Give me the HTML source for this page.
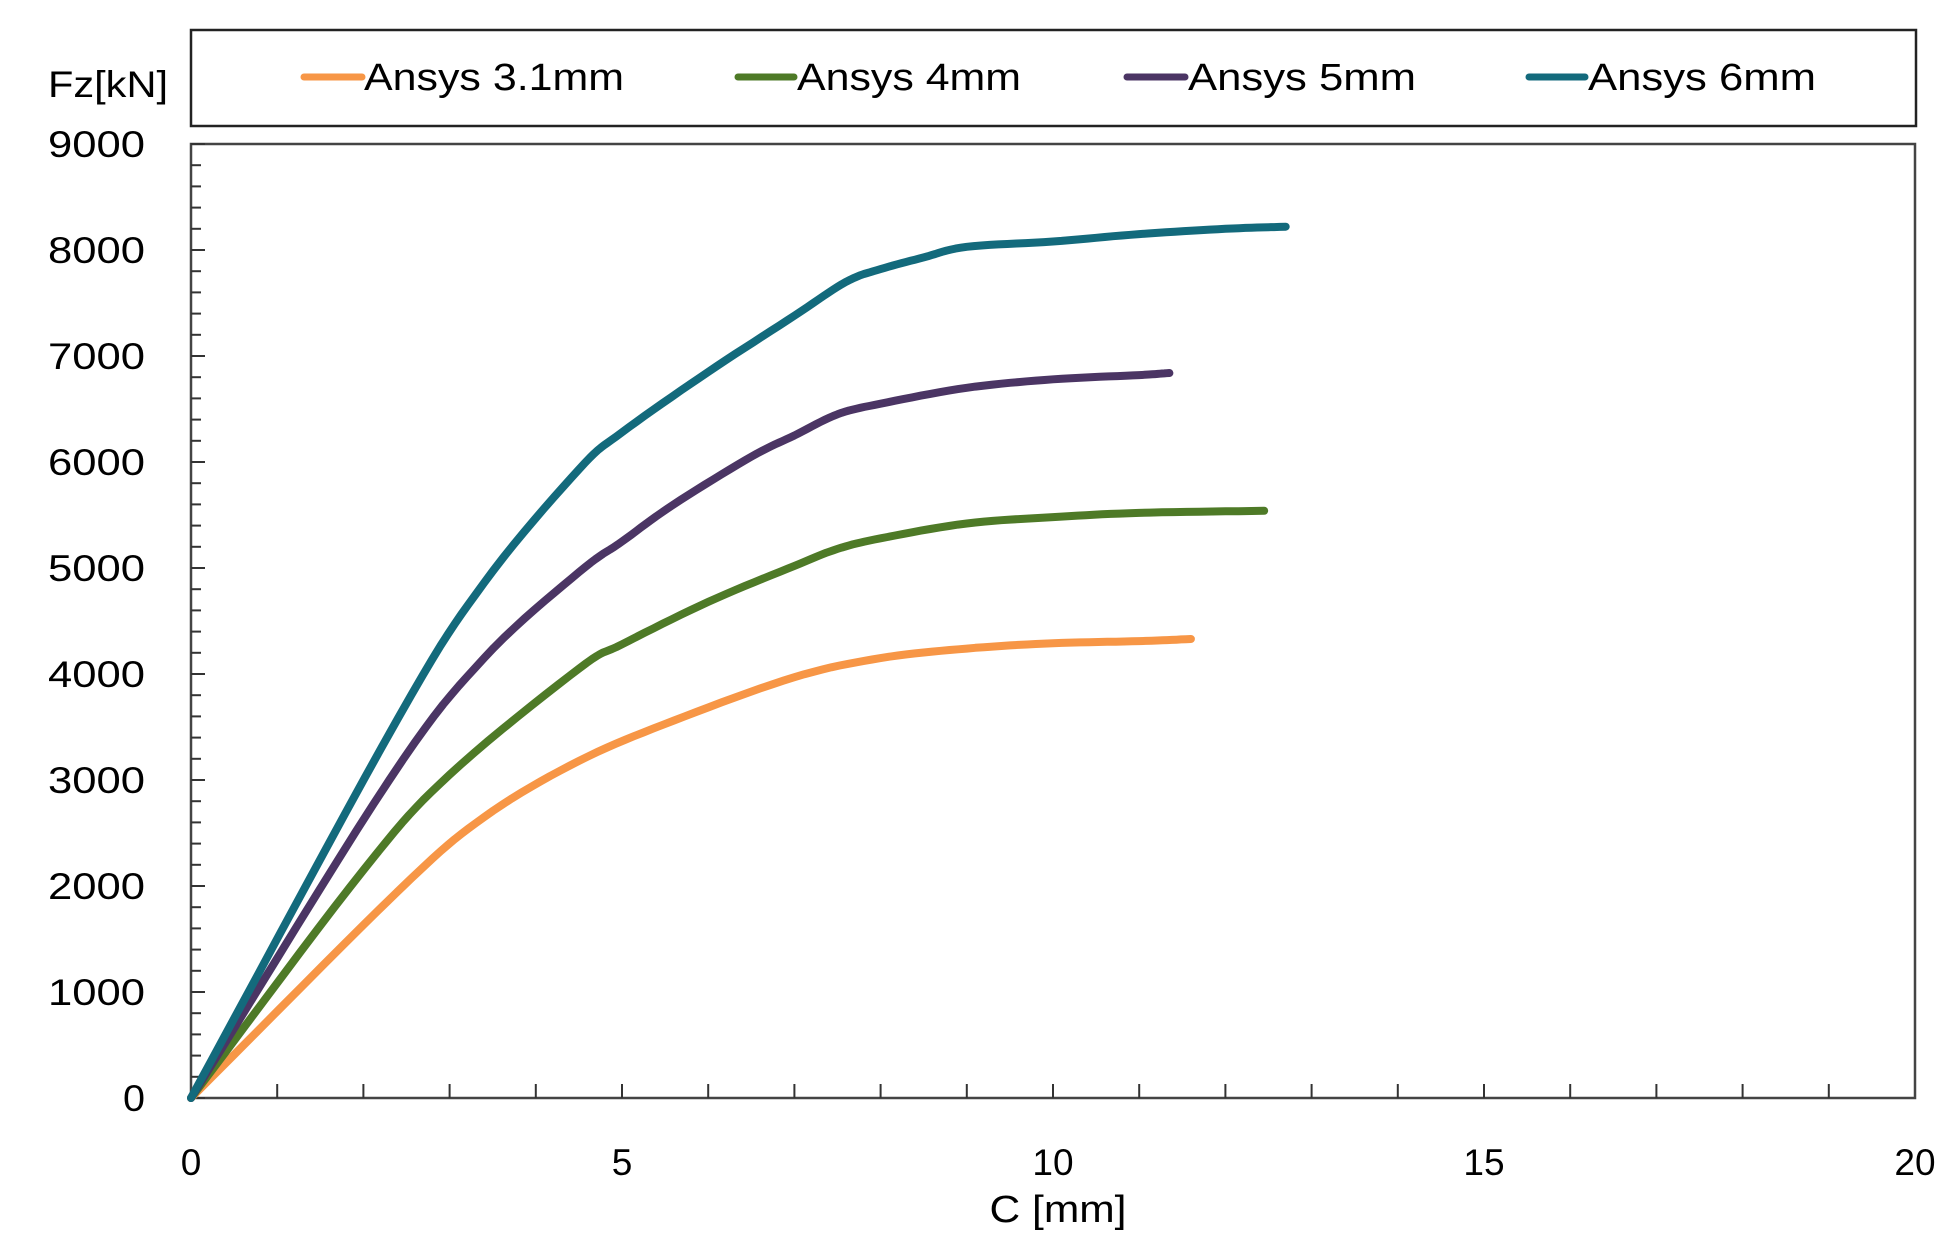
<!DOCTYPE html>
<html><head><meta charset="utf-8"><style>
html,body{margin:0;padding:0;background:#fff;}
svg{display:block;}
text{font-family:"Liberation Sans",sans-serif;fill:#000;}
</style></head><body>
<svg id="s" width="1959" height="1255" viewBox="0 0 1959 1255" xmlns="http://www.w3.org/2000/svg">
<rect x="191" y="30" width="1725" height="96" fill="none" stroke="#222" stroke-width="2.5"/>
<text x="48" y="97" font-size="37" textLength="120" lengthAdjust="spacingAndGlyphs">Fz[kN]</text>
<line x1="304" y1="77" x2="362" y2="77" stroke="#f79646" stroke-width="7" stroke-linecap="round"/>
<text x="364" y="90" font-size="38" textLength="260" lengthAdjust="spacingAndGlyphs">Ansys 3.1mm</text>
<line x1="738" y1="77" x2="794" y2="77" stroke="#4e7a27" stroke-width="7" stroke-linecap="round"/>
<text x="797" y="90" font-size="38" textLength="224" lengthAdjust="spacingAndGlyphs">Ansys 4mm</text>
<line x1="1127" y1="77" x2="1185" y2="77" stroke="#4b3564" stroke-width="7" stroke-linecap="round"/>
<text x="1188" y="90" font-size="38" textLength="228" lengthAdjust="spacingAndGlyphs">Ansys 5mm</text>
<line x1="1529" y1="77" x2="1585" y2="77" stroke="#136a7c" stroke-width="7" stroke-linecap="round"/>
<text x="1588" y="90" font-size="38" textLength="228" lengthAdjust="spacingAndGlyphs">Ansys 6mm</text>
<rect x="191" y="144" width="1724" height="954" fill="none" stroke="#444" stroke-width="2.5"/>
<g id="ticks" stroke="#333" stroke-width="2"></g>
<g id="labels"></g>
<g id="curves" fill="none" stroke-width="8" stroke-linejoin="round" stroke-linecap="round"></g>
<text x="1058" y="1222" font-size="38" text-anchor="middle" textLength="137" lengthAdjust="spacingAndGlyphs">C [mm]</text>
</svg>
<script>
var X0=191,XU=86.2,Y0=1098,YU=0.106;
function px(x){return X0+x*XU;} function py(y){return Y0-y*YU;}
var NS="http://www.w3.org/2000/svg";
var t=document.getElementById('ticks'),l=document.getElementById('labels'),c=document.getElementById('curves');
function el(tag,a,p,txt){var e=document.createElementNS(NS,tag);for(var k in a)e.setAttribute(k,a[k]);if(txt!==undefined)e.textContent=txt;p.appendChild(e);return e;}
for(var v=0;v<=9000;v+=200){var y=py(v);var big=v%1000==0;el('line',{x1:X0,x2:X0+(big?14:10),y1:y,y2:y},t);}
for(var v=0;v<=9000;v+=1000){el('text',{x:145,y:py(v)+13,'font-size':37,'text-anchor':'end',textLength:(v==0?22:97),lengthAdjust:'spacingAndGlyphs'},l,String(v));}
for(var x=1;x<20;x++){el('line',{x1:px(x),x2:px(x),y1:Y0,y2:Y0-14},t);}
for(var x=0;x<=20;x+=5){el('text',{x:px(x),y:1175,'font-size':37,'text-anchor':'middle'},l,String(x));}
var S=[
["#f79646",[[0,0],[2.4,1950],[3.4,2650],[4.5,3180],[5.6,3560],[7,3970],[8,4150],[9,4240],[10,4290],[11,4310],[11.6,4330]]],
["#4e7a27",[[0,0],[2.0,2150],[3.0,3050],[4.5,4050],[5,4280],[6,4680],[7,5020],[7.5,5180],[8,5280],[9,5420],[10,5480],[11,5520],[12.45,5540]]],
["#4b3564",[[0,0],[2.3,3000],[3.4,4150],[4.5,4960],[5,5250],[5.6,5600],[6.5,6050],[7,6250],[7.5,6450],[8,6550],[9,6700],[10,6780],[11,6820],[11.35,6840]]],
["#136a7c",[[0,0],[2.4,3580],[3.4,4860],[4.5,5930],[5,6280],[6,6850],[7,7380],[7.6,7700],[8,7820],[8.5,7930],[9,8030],[10,8080],[11,8150],[12,8200],[12.7,8220]]]
];
S.forEach(function(s){var d=s[1];var pts=[];
for(var i=0;i<d.length-1;i++){var b=d[i],e=d[i+1];
var a=i>0?d[i-1]:[2*b[0]-e[0],2*b[1]-e[1]];
var f=i+2<d.length?d[i+2]:[2*e[0]-b[0],2*e[1]-b[1]];
for(var k=0;k<10;k++){var u=k/10,u2=u*u,u3=u2*u;
var xx=0.5*((2*b[0])+(-a[0]+e[0])*u+(2*a[0]-5*b[0]+4*e[0]-f[0])*u2+(-a[0]+3*b[0]-3*e[0]+f[0])*u3);
var yy=0.5*((2*b[1])+(-a[1]+e[1])*u+(2*a[1]-5*b[1]+4*e[1]-f[1])*u2+(-a[1]+3*b[1]-3*e[1]+f[1])*u3);
pts.push(px(xx).toFixed(1)+","+py(yy).toFixed(1));}}
var z=d[d.length-1];pts.push(px(z[0]).toFixed(1)+","+py(z[1]).toFixed(1));
el('polyline',{points:pts.join(" "),stroke:s[0]},c);});
</script>
</body></html>
